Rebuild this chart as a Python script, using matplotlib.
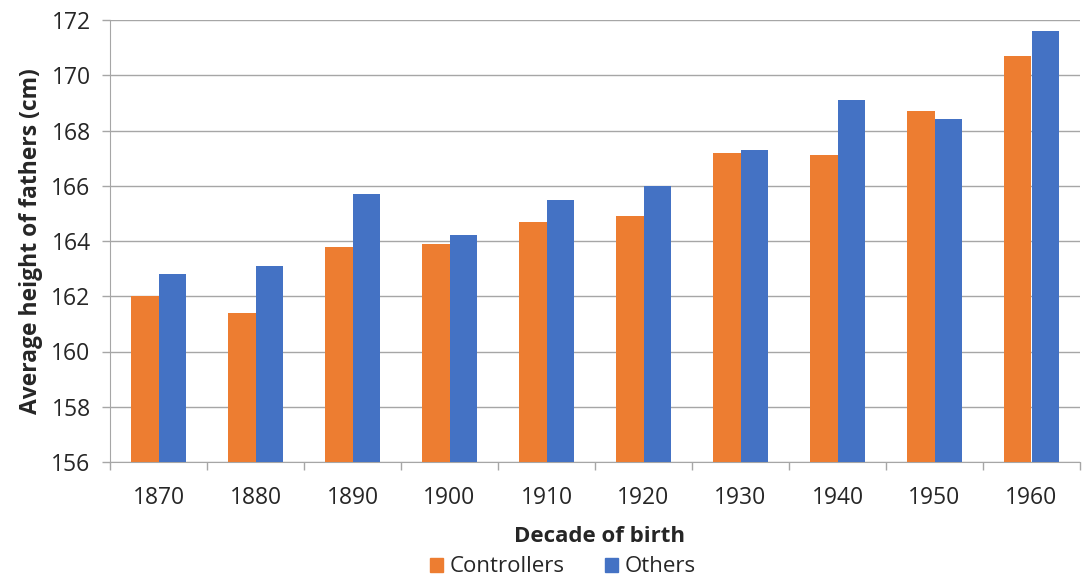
import numpy as np
import matplotlib.pyplot as plt
from matplotlib.patches import Patch

decades = ["1870", "1880", "1890", "1900", "1910", "1920", "1930", "1940", "1950", "1960"]
controllers = [162.0, 161.4, 163.8, 163.9, 164.7, 164.9, 167.2, 167.1, 168.7, 170.7]
others = [162.8, 163.1, 165.7, 164.2, 165.5, 166.0, 167.3, 169.1, 168.4, 171.6]

ORANGE = "#ed7d31"
BLUE = "#4472c4"
GRID = "#a6a6a6"
TEXT = "#262626"

plt.rcParams['font.family'] = ['Open Sans', 'DejaVu Sans']

fig = plt.figure(figsize=(10.83, 5.78), dpi=100)
ax = fig.add_axes([110 / 1083, 1 - 462 / 578, 970 / 1083, 442 / 578])

x = np.arange(len(decades))
w = 0.286
ax.bar(x - w / 2, controllers, w, color=ORANGE, label="Controllers", zorder=3)
ax.bar(x + w / 2, others, w, color=BLUE, label="Others", zorder=3)

ax.set_ylim(156, 172)
ax.set_yticks(np.arange(156, 173, 2))
ax.set_xlim(-0.5, len(decades) - 0.5)
ax.set_xticks(x)
ax.set_xticklabels(decades)
ax.set_xticks(np.arange(-0.5, len(decades), 1), minor=True)
ax.tick_params(axis='x', which='major', length=0, pad=17, labelsize=16.5, colors=TEXT)
ax.tick_params(axis='x', which='minor', length=6, color=GRID, width=1)
ax.tick_params(axis='y', length=6, color=GRID, width=1, pad=8, labelsize=16.5, colors=TEXT)

ax.grid(axis='y', color=GRID, linewidth=1, zorder=0)
for side in ["top", "right"]:
    ax.spines[side].set_visible(False)
ax.spines["left"].set_color(GRID)
ax.spines["bottom"].set_color(GRID)

ax.set_ylabel("Average height of fathers (cm)", fontsize=16.5, fontweight='bold', color=TEXT, labelpad=6)
fig.text(600 / 1083, 1 - 537 / 578, "Decade of birth", ha='center', va='center',
         fontsize=16, fontweight='bold', color=TEXT)

handles = [Patch(color=ORANGE, label="Controllers"), Patch(color=BLUE, label="Others")]
fig.legend(handles=handles, loc='center', bbox_to_anchor=(563 / 1083, 1 - 567 / 578), ncol=2,
           frameon=False, fontsize=16, handlelength=0.6, handleheight=0.6,
           handletextpad=0.3, columnspacing=1.8, labelcolor=TEXT)

fig.savefig("out.png", dpi=100)
